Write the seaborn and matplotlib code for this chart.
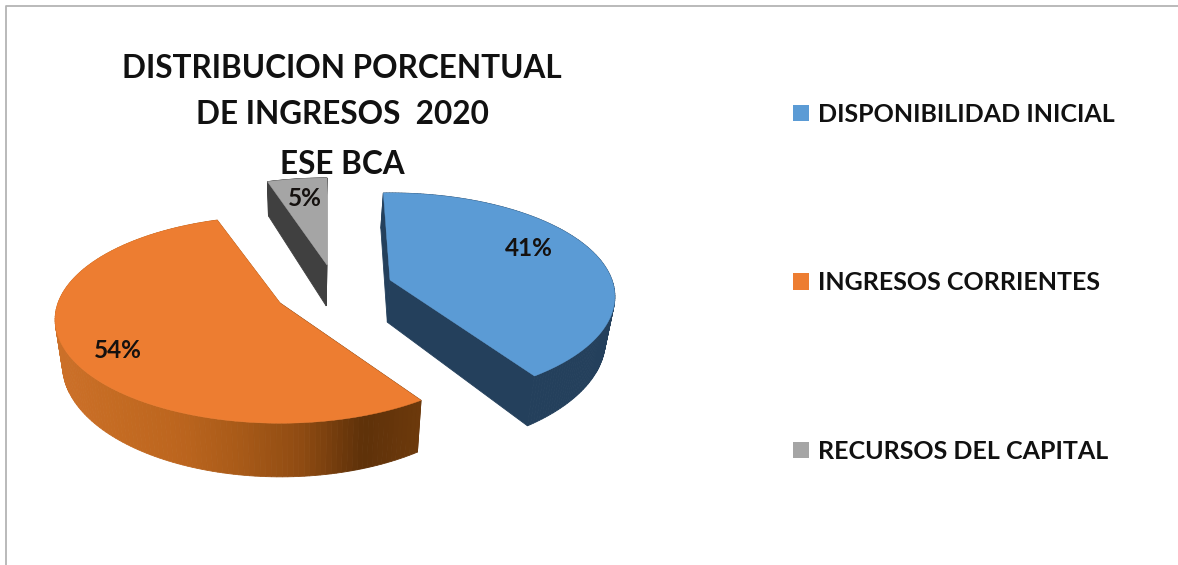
# 3D looking exploded pie, ingresos 2020

import numpy as np
import matplotlib
matplotlib.use("Agg")
import matplotlib.pyplot as plt
from matplotlib.patches import Patch
import seaborn as sns

# Data
categories = ["DISPONIBILIDAD INICIAL", "INGRESOS CORRIENTES", "RECURSOS DEL CAPITAL"]
percent = [41, 54, 5]
title_lines = ["DISTRIBUCION PORCENTUAL", "DE INGRESOS  2020", "ESE BCA"]

# Colours and layout (pixels of the picture)
top_colors = ["#5B9BD5", "#ED7D31", "#A5A5A5"]
apex = [(390, 280), (280, 303), (327, 265)]
slice_turn = [0, -1, -2]
label_pos = [(529, 248), (118, 350), (305, 199)]
RX, RY, PERSP = 222, 101, 0.16

sns.set_theme(style="white")
plt.rcParams["font.family"] = ["Lato", "DejaVu Sans"]

side_maps = [
    sns.blend_palette(["#24405C", "#24405C"], as_cmap=True),
    sns.blend_palette(["#CC7029", "#C46B22", "#BC651E", "#A85A18", "#8F4B12", "#5E3109", "#6E3A0C"], as_cmap=True),
    sns.blend_palette(["#404040", "#404040"], as_cmap=True),
]

fig = plt.figure(figsize=(11.78, 5.65), dpi=100, facecolor="white")
ax = fig.add_axes([0, 0, 1, 1])

# the pie gives the angles of the slices, the wedges are redrawn in perspective below
wedges, _ = ax.pie(percent, startangle=92, counterclock=False)
angles = [(w.theta1, w.theta2) for w in wedges]
for w in wedges:
    w.remove()

ax.set_aspect("auto")
ax.set_xlim(0, 1178)
ax.set_ylim(565, 0)
ax.axis("off")


def project(theta, radius, center):
    u = radius * np.cos(np.radians(theta))
    v = radius * np.sin(np.radians(theta))
    d = 1 + PERSP * v
    return center[0] + RX * u / d, center[1] - RY * v / d


def lower(x, y):
    return 300 + (x - 300) * 0.97, y + 42 + (y - 278) * 0.08


for i, (t1, t2) in enumerate(angles):
    th = np.linspace(t1, t2, 160) + slice_turn[i]
    ax_x, ax_y = project(th, 1.0, apex[i])
    x = np.r_[apex[i][0], ax_x]
    y = np.r_[apex[i][1], ax_y]
    bx, by = lower(x, y)

    # side faces, back to front
    n = len(x)
    quads = []
    for j in range(n):
        k = (j + 1) % n
        quads.append(((y[j] + y[k]) / 2, j, k))
    for _, j, k in sorted(quads):
        frac = np.clip((((x[j] + x[k]) / 2) - 55) / 370, 0, 1)
        c = side_maps[i](frac)
        ax.fill([x[j], x[k], bx[k], bx[j]], [y[j], y[k], by[k], by[j]],
                color=c, lw=0.6, zorder=2 + i * 0.1)

    ax.fill(x, y, color=top_colors[i], lw=0.3, zorder=3 + i * 0.1)
    ax.text(label_pos[i][0], label_pos[i][1], f"{percent[i]}%", ha="center", va="center",
            fontsize=17.5, fontweight="bold", color="#15110f", zorder=5)

# Title
for line, ypos in zip(title_lines, [68, 113, 163]):
    ax.text(342, ypos + 1, line, ha="center", va="center", fontsize=22.7, fontweight="bold", color="#111111")

# Legend
handles = [Patch(facecolor=c, edgecolor="none") for c in top_colors]
ax.legend(handles, categories, loc="upper left", bbox_to_anchor=(0.673, 0.818), frameon=False,
          prop={"weight": "bold", "size": 18}, labelcolor="#111111", handlelength=0.64, handleheight=0.64,
          handletextpad=0.36, labelspacing=5.82, borderpad=0, borderaxespad=0)

# Frame of the picture, only top and left are visible
ax.plot([6, 6, 1178], [565, 6, 6], color="#b4b4b4", lw=1.3, clip_on=False)

fig.savefig("out.png", dpi=100)
